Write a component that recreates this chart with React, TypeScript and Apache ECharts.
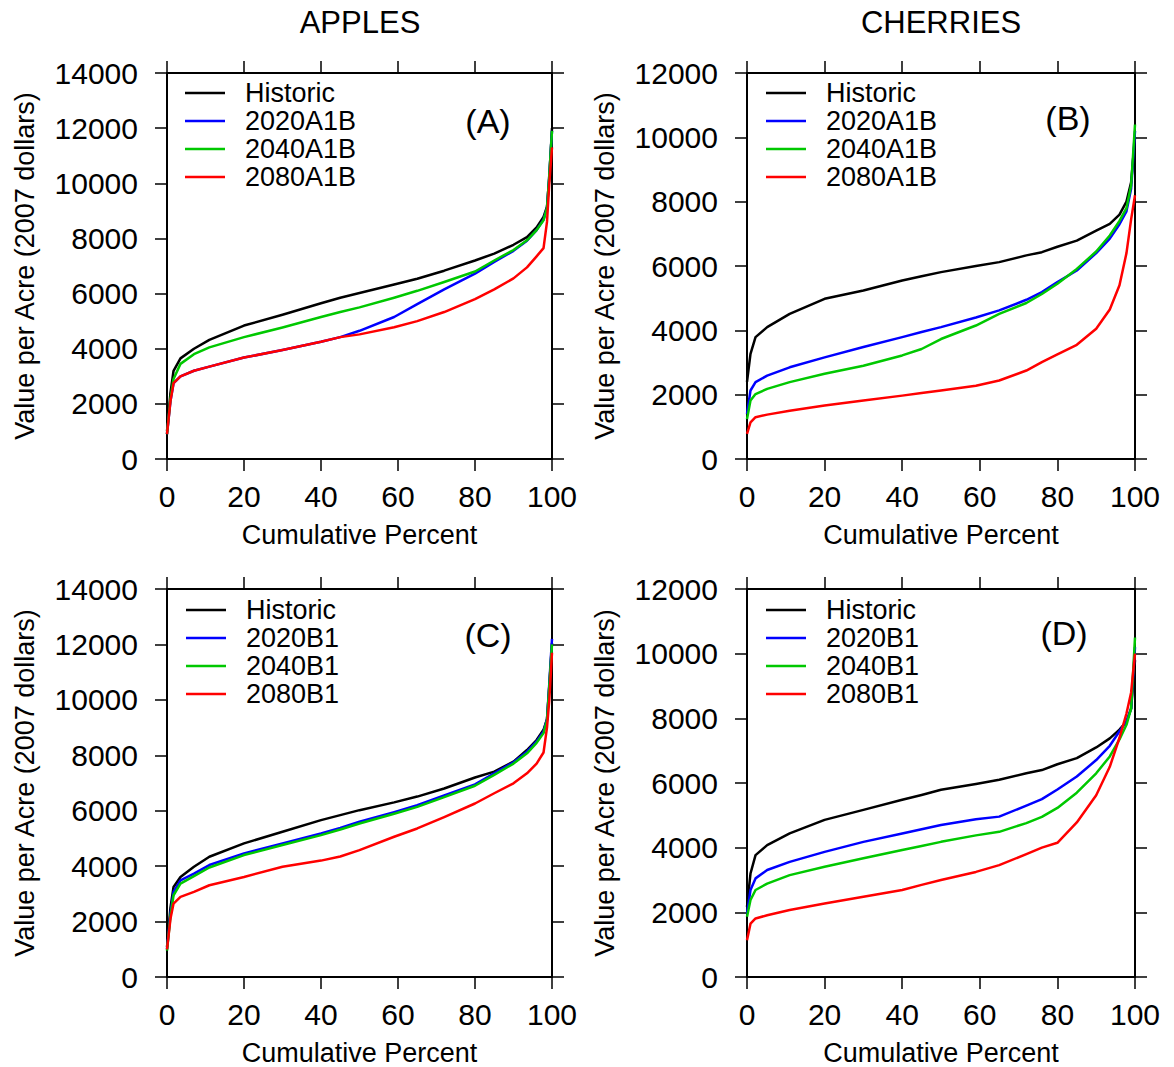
import React, { useEffect, useRef } from "react";
import * as echarts from "echarts";

const FONT = '"Liberation Sans", Arial, Helvetica, sans-serif';

// x positions (cumulative percent)
const pctApples = [0, 0.9, 1.7, 3.5, 7, 11, 20, 30, 40, 45, 50, 59, 65, 72, 80, 85, 90, 93.5, 96, 97.8, 98.7, 99.3, 100];
const pctCherries = [0, 0.9, 2.2, 5.2, 11, 20, 30, 40, 45, 50, 59, 65, 72, 76, 80, 85, 90, 93.5, 96, 97.8, 99, 100];

// Panel A: apples, A1B
const histA = [1000, 2400, 3200, 3650, 4000, 4320, 4840, 5230, 5650, 5850, 6020, 6330, 6540, 6830, 7200, 7450, 7770, 8050, 8400, 8780, 9150, 10200, 12000];
const a2020A1B = [900, 2100, 2750, 3000, 3200, 3350, 3680, 3950, 4250, 4420, 4650, 5150, 5620, 6150, 6720, 7150, 7550, 7920, 8300, 8680, 9100, 10300, 11900];
const a2040A1B = [900, 2200, 2900, 3450, 3800, 4050, 4420, 4770, 5150, 5330, 5500, 5850, 6100, 6420, 6800, 7200, 7580, 7930, 8300, 8660, 9100, 10300, 11900];
const a2080A1B = [900, 2100, 2750, 3000, 3200, 3350, 3680, 3950, 4250, 4420, 4520, 4780, 5000, 5330, 5800, 6150, 6550, 6950, 7350, 7650, 8600, 10000, 11300];

// Panel B: cherries, A1B
const histB = [2400, 3270, 3790, 4100, 4510, 4980, 5240, 5550, 5680, 5810, 6000, 6120, 6330, 6430, 6600, 6790, 7100, 7310, 7600, 8000, 8600, 10000];
const c2020A1B = [1400, 2130, 2390, 2590, 2850, 3160, 3480, 3790, 3950, 4100, 4400, 4620, 4950, 5190, 5500, 5860, 6400, 6850, 7300, 7700, 8400, 10200];
const c2040A1B = [1240, 1820, 2020, 2180, 2390, 2650, 2900, 3220, 3420, 3730, 4150, 4510, 4850, 5130, 5450, 5910, 6450, 6950, 7400, 7800, 8500, 10400];
const c2080A1B = [780, 1140, 1300, 1380, 1500, 1660, 1820, 1970, 2050, 2130, 2280, 2440, 2750, 3010, 3250, 3550, 4050, 4650, 5400, 6400, 7450, 8200];

// Panel C: apples, B1
const histC = [1080, 2500, 3250, 3610, 3980, 4340, 4820, 5240, 5660, 5840, 6020, 6300, 6510, 6800, 7200, 7410, 7770, 8190, 8550, 8920, 9300, 10500, 12050];
const a2020B1 = [1000, 2300, 3070, 3490, 3730, 4040, 4460, 4820, 5180, 5380, 5600, 5950, 6200, 6550, 6950, 7350, 7750, 8130, 8500, 8860, 9300, 10600, 12200];
const a2040B1 = [950, 2200, 2950, 3370, 3640, 3950, 4400, 4760, 5120, 5320, 5540, 5890, 6140, 6490, 6900, 7290, 7700, 8070, 8450, 8800, 9250, 10500, 12000];
const a2080B1 = [1000, 2100, 2650, 2890, 3070, 3310, 3610, 3980, 4200, 4350, 4580, 5060, 5360, 5770, 6260, 6630, 6990, 7350, 7700, 8100, 9000, 10000, 11700];

// Panel D: cherries, B1
const histD = [2170, 3200, 3770, 4080, 4440, 4860, 5170, 5480, 5630, 5790, 5970, 6100, 6300, 6400, 6580, 6770, 7100, 7380, 7650, 7900, 8300, 9800];
const c2020B1 = [1960, 2690, 3050, 3310, 3560, 3870, 4180, 4440, 4570, 4700, 4880, 4960, 5300, 5500, 5800, 6200, 6710, 7150, 7600, 7900, 8300, 10200];
const c2040B1 = [1860, 2380, 2690, 2890, 3150, 3410, 3670, 3930, 4050, 4180, 4380, 4490, 4760, 4950, 5230, 5700, 6300, 6820, 7350, 7800, 8300, 10500];
const c2080B1 = [1140, 1650, 1810, 1910, 2070, 2270, 2480, 2690, 2850, 3000, 3250, 3460, 3800, 4000, 4150, 4780, 5620, 6500, 7400, 8150, 8800, 10000];

const namesA1B = ["Historic", "2020A1B", "2040A1B", "2080A1B"];
const namesB1 = ["Historic", "2020B1", "2040B1", "2080B1"];
const lineColors = ["#000000", "#0000ff", "#00c800", "#ff0000"];
const columnTitles = ["APPLES", "CHERRIES"];
const panelLabels = ["(A)", "(B)", "(C)", "(D)"];
const yMaxes = [14000, 12000, 14000, 12000];
const xTicks = { min: 0, max: 100, interval: 20 };
const yInterval = 2000;

const panelData = [
  { pct: pctApples, names: namesA1B, values: [histA, a2020A1B, a2040A1B, a2080A1B] },
  { pct: pctCherries, names: namesA1B, values: [histB, c2020A1B, c2040A1B, c2080A1B] },
  { pct: pctApples, names: namesB1, values: [histC, a2020B1, a2040B1, a2080B1] },
  { pct: pctCherries, names: namesB1, values: [histD, c2020B1, c2040B1, c2080B1] },
];

// layout (pixels)
const layout = [
  { grid: { left: 167, top: 73, width: 385, height: 386 }, legend: { left: 185, top: 79 }, label: [488, 121] },
  { grid: { left: 747, top: 73, width: 388, height: 386 }, legend: { left: 766, top: 79 }, label: [1068, 118] },
  { grid: { left: 167, top: 589, width: 385, height: 388 }, legend: { left: 186, top: 596 }, label: [488, 635] },
  { grid: { left: 747, top: 589, width: 388, height: 388 }, legend: { left: 766, top: 596 }, label: [1064, 633] },
];
const titlePos = [[360, 22], [941, 22]];

export default function App() {
  const ref = useRef<HTMLDivElement>(null);
  useEffect(() => {
    if (!ref.current) return;
    const chart = echarts.init(ref.current, undefined, { renderer: "svg" });
    const axisLine = { show: true, onZero: false, lineStyle: { color: "#000", width: 2 } };
    const axisTick = { show: true, inside: false, length: 12, lineStyle: { color: "#000", width: 1.5 } };
    const tickFont = { fontSize: 30, color: "#000", fontFamily: FONT };
    const nameFont = { fontSize: 27, color: "#000", fontFamily: FONT };
    const plain = (v: number) => String(v);

    const grids: any[] = [];
    const xAxes: any[] = [];
    const yAxes: any[] = [];
    const series: any[] = [];
    const legends: any[] = [];
    const graphics: any[] = [];

    panelData.forEach((p, i) => {
      const L = layout[i];
      grids.push({ ...L.grid, containLabel: false });
      xAxes.push({
        type: "value", gridIndex: i, position: "bottom", ...xTicks,
        axisLine, axisTick, splitLine: { show: false },
        axisLabel: { ...tickFont, margin: 22, formatter: plain },
        name: "Cumulative Percent", nameLocation: "middle", nameGap: 62, nameTextStyle: nameFont,
      });
      xAxes.push({
        type: "value", gridIndex: i, position: "top", ...xTicks,
        axisLine, axisTick, splitLine: { show: false }, axisLabel: { show: false },
      });
      yAxes.push({
        type: "value", gridIndex: i, position: "left", min: 0, max: yMaxes[i], interval: yInterval,
        axisLine, axisTick, splitLine: { show: false },
        axisLabel: { ...tickFont, margin: 29, formatter: plain },
        name: "Value per Acre (2007 dollars)", nameLocation: "middle", nameGap: 129, nameTextStyle: nameFont,
      });
      yAxes.push({
        type: "value", gridIndex: i, position: "right", min: 0, max: yMaxes[i], interval: yInterval,
        axisLine, axisTick, splitLine: { show: false }, axisLabel: { show: false },
      });
      p.names.forEach((nm, k) => {
        series.push({
          type: "line", name: nm, xAxisIndex: 2 * i, yAxisIndex: 2 * i,
          data: p.pct.map((x, j) => [x, p.values[k][j]]),
          showSymbol: false, symbol: "none", smooth: false,
          lineStyle: { color: lineColors[k], width: 2.5, join: "round" },
          itemStyle: { color: lineColors[k] },
          z: 2 + k,
        });
      });
      legends.push({
        data: p.names, left: L.legend.left, top: L.legend.top, orient: "vertical",
        icon: "rect", itemWidth: 40, itemHeight: 2.5, itemGap: 0, padding: 0,
        selectedMode: false,
        textStyle: { fontSize: 27, lineHeight: 28, color: "#000", fontFamily: FONT, padding: [0, 0, 0, 15] },
      });
      graphics.push({
        type: "text", x: L.label[0], y: L.label[1],
        style: { text: panelLabels[i], fontSize: 34, fontFamily: FONT, fill: "#000", align: "center", verticalAlign: "middle", textAlign: "center", textVerticalAlign: "middle" },
      });
    });
    columnTitles.forEach((t, i) => {
      graphics.push({
        type: "text", x: titlePos[i][0], y: titlePos[i][1],
        style: { text: t, fontSize: 31, fontFamily: FONT, fill: "#000", align: "center", verticalAlign: "middle", textAlign: "center", textVerticalAlign: "middle" },
      });
    });

    chart.setOption({
      animation: false,
      backgroundColor: "#ffffff",
      grid: grids,
      xAxis: xAxes,
      yAxis: yAxes,
      series,
      legend: legends,
      graphic: graphics,
    });
    return () => chart.dispose();
  }, []);
  return (
    <div
      ref={ref}
      style={{ position: "fixed", left: 0, top: 0, width: 1174, height: 1067, background: "#fff" }}
    />
  );
}
